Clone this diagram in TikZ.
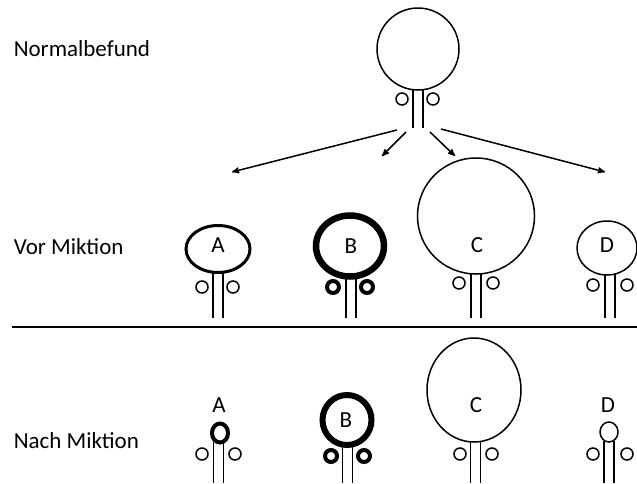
\documentclass[tikz,border=0pt]{standalone}
\usepackage{fontspec}
\setmainfont{Carlito}
\usetikzlibrary{shapes.geometric,arrows,positioning}
\tikzset{
  blase/.style={ellipse, draw, inner sep=0pt},
  schrift/.style={inner sep=0pt, anchor=west},
  dick/.style={line width=4pt},
}
\newcommand{\roehre}[3]{\draw (#1-5,#2) -- (#1-5,#3) (#1+5,#2) -- (#1+5,#3);}

\begin{document}
\begin{tikzpicture}[x=1pt, y=-1pt, >=stealth', line width=1.5pt, font=\fontsize{23}{27}\selectfont]
	\useasboundingbox (0,0) rectangle (637,483);
	% Zeilen
	\node (normal) [schrift] at (13,49) {Normalbefund};
	\node (vor) [schrift] at (13,247) {Vor Miktion};
	\node (nach) [schrift] at (13,441) {Nach Miktion};
	\draw [line width=2.5pt] (12,327) -- (637,327);

	% Normalbefund
	\node (n0) [blase, minimum width=82pt, minimum height=82pt] at (418,49) {};
	\roehre{418}{89}{128}
	\foreach \x in {402,433}
		\draw (\x,99) circle [radius=6];
	\coordinate (s1) at (397,130);
	\coordinate (s2) at (406,132);
	\coordinate (s3) at (430,132);
	\coordinate (s4) at (441,129);
	\coordinate (e1) at (232,172);
	\coordinate (e2) at (382,156);
	\coordinate (e3) at (455,156);
	\coordinate (e4) at (605,172);
	\foreach \i in {1,...,4}
		\draw [->] (s\i) -- (e\i);

	% vor Miktion
	\node (vA) [blase, line width=3pt, minimum width=64pt, minimum height=47pt] at (218,249) {};
	\node (vB) [blase, line width=6.5pt, minimum width=68pt, minimum height=61pt] at (350,246) {};
	\node (vC) [blase, minimum width=117pt, minimum height=116pt] at (476,216) {};
	\node (vD) [blase, minimum width=60pt, minimum height=54pt] at (607,248) {};
	\node (vAlab) at (218,245) {A};
	\node (vBlab) at (351,246) {B};
	\node (vClab) at (477,245) {C};
	\node (vDlab) at (607,245) {D};
	\roehre{218}{272}{318}
	\roehre{351}{276}{318}
	\roehre{476}{273}{318}
	\roehre{610}{274}{318}
	\foreach \x/\y in {202/287,233/287,459/283,493/283,593/285,627/285}
		\draw (\x,\y) circle [radius=6];
	\foreach \x in {333,367}
		\draw [dick] (\x,287) circle [radius=6];

	% nach Miktion
	\node (hA) [blase, line width=4pt, minimum width=16pt, minimum height=19pt] at (220,433) {};
	\node (hB) [blase, line width=6pt, minimum width=49pt, minimum height=50pt] at (347,420) {};
	\node (hC) [blase, minimum width=94pt, minimum height=104pt] at (474,390) {};
	\node (hD) [blase, minimum width=18pt, minimum height=20pt] at (609,432) {};
	\node (hAlab) at (219,405) {A};
	\node (hBlab) at (346,420) {B};
	\node (hClab) at (476,405) {C};
	\node (hDlab) at (608,405) {D};
	\roehre{218.5}{442}{483}
	\roehre{347.5}{444}{483}
	\roehre{475.5}{441}{483}
	\roehre{609}{441}{483}
	\foreach \x in {202,235,460,492,593,627}
		\draw (\x,454) circle [radius=6];
	\foreach \x in {331,364}
		\draw [dick] (\x,456) circle [radius=6];
\end{tikzpicture}
\end{document}
